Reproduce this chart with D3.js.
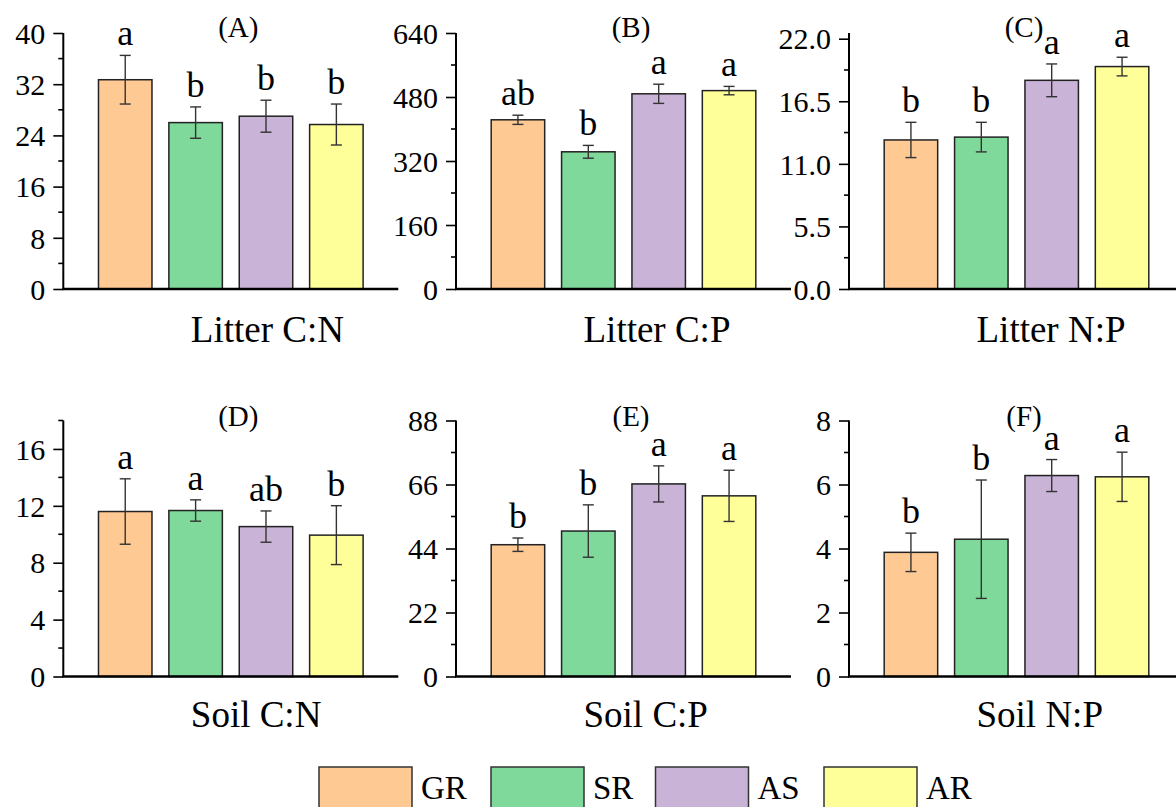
<!DOCTYPE html>
<html><head><meta charset="utf-8">
<script src="https://cdn.jsdelivr.net/npm/d3@7"></script>
<style>
html,body{margin:0;padding:0;background:#fff;}
svg{display:block;}
text{font-family:"Liberation Serif","Times New Roman",serif;fill:#000;}
</style></head>
<body><svg id="c" width="1176" height="807"></svg>
<script>
const categories = ["GR","SR","AS","AR"];
const colors = ["#FFC994","#7FD99A","#C9B3D6","#FFFF99"];
const panelLabels = ["(A)","(B)","(C)","(D)","(E)","(F)"];
const titles = ["Litter C:N","Litter C:P","Litter N:P","Soil C:N","Soil C:P","Soil N:P"];

const litterCN = [32.7, 26.0, 27.0, 25.7];
const litterCNErr = [3.8, 2.45, 2.5, 3.2];
const litterCNLetters = ["a","b","b","b"];

const litterCP = [423, 343, 488, 496];
const litterCPErr = [11.5, 16, 24, 10.5];
const litterCPLetters = ["ab","b","a","a"];

const litterNP = [13.1, 13.35, 18.34, 19.55];
const litterNPErr = [1.55, 1.3, 1.44, 0.82];
const litterNPLetters = ["b","b","a","a"];

const soilCN = [11.6, 11.67, 10.54, 9.94];
const soilCNErr = [2.3, 0.75, 1.1, 2.07];
const soilCNLetters = ["a","a","ab","b"];

const soilCP = [45.3, 50.0, 66.2, 62.1];
const soilCPErr = [2.3, 9.0, 6.2, 8.8];
const soilCPLetters = ["b","b","a","a"];

const soilNP = [3.88, 4.29, 6.28, 6.24];
const soilNPErr = [0.6, 1.85, 0.5, 0.77];
const soilNPLetters = ["b","b","a","a"];

const yMaxes = [40, 640, 22.5, 18, 88, 8];
const majorTicks = [
  [0,8,16,24,32,40],
  [0,160,320,480,640],
  [0,5.5,11,16.5,22],
  [0,4,8,12,16],
  [0,22,44,66,88],
  [0,2,4,6,8]
];
const tickFormats = ["d", "d", ".1f", "d", "d", "d"];

const panels = [
  {v: litterCN, e: litterCNErr, l: litterCNLetters},
  {v: litterCP, e: litterCPErr, l: litterCPLetters},
  {v: litterNP, e: litterNPErr, l: litterNPLetters},
  {v: soilCN, e: soilCNErr, l: soilCNLetters},
  {v: soilCP, e: soilCPErr, l: soilCPLetters},
  {v: soilNP, e: soilNPErr, l: soilNPLetters}
];

const svg = d3.select("#c");
const axisX = [63.3, 456, 849];
const rowBottom = [289, 676.5];
const titleOffset = [52.7, 50.5];
const plotH = 256, plotW = 335;

panels.forEach((p, k) => {
  const col = k % 3, row = Math.floor(k / 3);
  const x0 = axisX[col], y0 = rowBottom[row];
  const g = svg.append("g").attr("transform", `translate(${x0},${y0 - plotH})`);
  const x = d3.scaleBand().domain(categories).range([0, plotW]).paddingInner(0.24).paddingOuter(0.5);
  const y = d3.scaleLinear().domain([0, yMaxes[k]]).range([plotH, 0]);

  const data = categories.map((c, i) => ({c, v: p.v[i], e: p.e[i], l: p.l[i], col: colors[i]}));

  g.selectAll("rect.bar").data(data).join("rect")
    .attr("x", d => x(d.c)).attr("y", d => y(d.v))
    .attr("width", x.bandwidth()).attr("height", d => y(0) - y(d.v))
    .attr("fill", d => d.col).attr("stroke", "#222").attr("stroke-width", 1.5);

  const cap = 5.5;
  const eg = g.selectAll("g.err").data(data).join("g").attr("stroke", "#333").attr("stroke-width", 1.4);
  eg.append("line").attr("x1", d => x(d.c) + x.bandwidth()/2).attr("x2", d => x(d.c) + x.bandwidth()/2)
    .attr("y1", d => y(d.v + d.e)).attr("y2", d => y(d.v - d.e));
  eg.append("line").attr("x1", d => x(d.c) + x.bandwidth()/2 - cap).attr("x2", d => x(d.c) + x.bandwidth()/2 + cap)
    .attr("y1", d => y(d.v + d.e)).attr("y2", d => y(d.v + d.e));
  eg.append("line").attr("x1", d => x(d.c) + x.bandwidth()/2 - cap).attr("x2", d => x(d.c) + x.bandwidth()/2 + cap)
    .attr("y1", d => y(d.v - d.e)).attr("y2", d => y(d.v - d.e));

  g.selectAll("text.let").data(data).join("text")
    .attr("x", d => x(d.c) + x.bandwidth()/2).attr("y", d => y(d.v + d.e) - 10)
    .attr("text-anchor", "middle").style("font-size", "36px").text(d => d.l);

  const ticks = majorTicks[k];
  const minor = ticks.slice(0, -1).map((t, i) => (t + ticks[i+1]) / 2);
  if (yMaxes[k] - ticks[ticks.length-1] > (ticks[1]-ticks[0]) * 0.4) minor.push(ticks[ticks.length-1] + (ticks[1]-ticks[0])/2);
  const yAxis = d3.axisLeft(y).tickValues(ticks).tickSize(10).tickPadding(8).tickFormat(d3.format(tickFormats[k]));
  const ya = g.append("g").call(yAxis);
  ya.attr("font-family", null).attr("font-size", null);
  ya.select(".domain").attr("d", `M0,${y(yMaxes[k])}V${plotH}`).attr("stroke", "#000").attr("stroke-width", 2);
  ya.selectAll(".tick line").attr("stroke", "#000").attr("stroke-width", 1.6);
  ya.selectAll(".tick text").style("font-size", "30px").attr("dy", "0.34em");
  g.append("g").selectAll("line").data(minor).join("line")
    .attr("x1", -5).attr("x2", 0).attr("y1", d => y(d)).attr("y2", d => y(d))
    .attr("stroke", "#000").attr("stroke-width", 1.6);

  g.append("line").attr("x1", -1).attr("x2", plotW).attr("y1", plotH).attr("y2", plotH)
    .attr("stroke", "#000").attr("stroke-width", 2.6);

  g.append("text").attr("x", 175).attr("y", row === 0 ? 4 : 5)
    .attr("text-anchor", "middle").style("font-size", "29px").text(panelLabels[k]);

  g.append("text").attr("x", 127.5).attr("y", plotH + titleOffset[row])
    .style("font-size", "37px").text(titles[k]);
});

const legX = [319, 491, 655.5, 824];
const lg = svg.append("g");
categories.forEach((c, i) => {
  lg.append("rect").attr("x", legX[i]).attr("y", 767).attr("width", 93).attr("height", 50)
    .attr("fill", colors[i]).attr("stroke", "#333").attr("stroke-width", 1.5);
  lg.append("text").attr("x", legX[i] + 102).attr("y", 799).style("font-size", "33px").text(c);
});
</script></body></html>
